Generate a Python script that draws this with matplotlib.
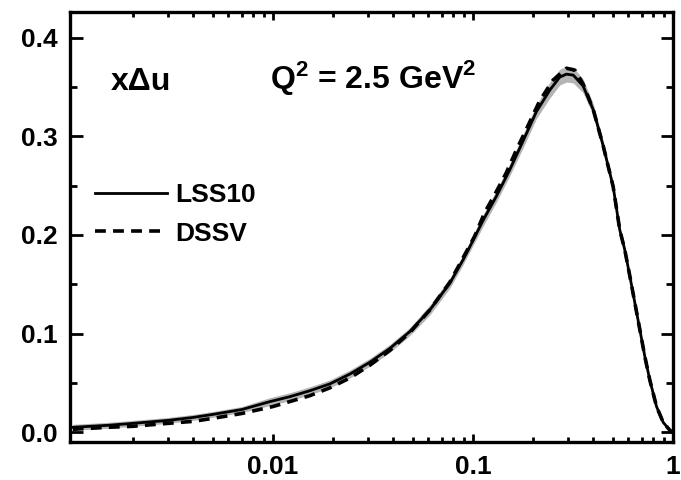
import numpy as np
import matplotlib
matplotlib.use('Agg')
import matplotlib.pyplot as plt
from matplotlib.ticker import LogLocator, MultipleLocator, NullFormatter, FixedLocator, FixedFormatter

plt.rcParams['font.family'] = ['Liberation Sans', 'DejaVu Sans']
plt.rcParams['font.weight'] = 'bold'
plt.rcParams['mathtext.fontset'] = 'custom'
plt.rcParams['mathtext.rm'] = 'Liberation Sans:bold'
plt.rcParams['mathtext.bf'] = 'Liberation Sans:bold'

# LSS10 central curve and its error band
x_lss = [0.001, 0.0015, 0.002, 0.003, 0.004, 0.005, 0.007, 0.00966, 0.01216, 0.0153, 0.0193,
         0.0243, 0.0306, 0.0385, 0.0484, 0.061, 0.0767, 0.0895, 0.0966, 0.1127, 0.131,
         0.153, 0.179, 0.208, 0.243, 0.272, 0.294, 0.318, 0.356, 0.400, 0.449, 0.503,
         0.543, 0.575, 0.610, 0.646, 0.684, 0.724, 0.767, 0.829, 0.895, 0.966, 1.0]
y_lss = [0.005, 0.007, 0.009, 0.012, 0.015, 0.018, 0.023, 0.031, 0.036, 0.042, 0.049,
         0.059, 0.071, 0.085, 0.102, 0.124, 0.151, 0.175, 0.188, 0.215, 0.239,
         0.266, 0.296, 0.325, 0.347, 0.360, 0.363, 0.362, 0.351, 0.327, 0.290, 0.249,
         0.205, 0.185, 0.158, 0.131, 0.104, 0.077, 0.053, 0.026, 0.010, 0.002, 0.0]
band_w = [0.003, 0.003, 0.003, 0.003, 0.003, 0.003, 0.003, 0.004, 0.004, 0.004, 0.004,
          0.004, 0.004, 0.004, 0.004, 0.005, 0.005, 0.005, 0.005, 0.006, 0.006,
          0.006, 0.007, 0.007, 0.008, 0.008, 0.008, 0.008, 0.007, 0.006, 0.005, 0.004,
          0.003, 0.003, 0.002, 0.002, 0.002, 0.002, 0.001, 0.001, 0.001, 0.0, 0.0]

# DSSV curve
x_dssv = [0.001, 0.0015, 0.002, 0.003, 0.004, 0.005, 0.007, 0.01, 0.0153, 0.0193, 0.0243,
          0.0306, 0.0385, 0.0484, 0.061, 0.0767, 0.0895, 0.1023, 0.1148, 0.1288, 0.147,
          0.165, 0.185, 0.216, 0.252, 0.294, 0.324, 0.356, 0.400, 0.449, 0.503,
          0.543, 0.575, 0.610, 0.646, 0.684, 0.724, 0.767, 0.829, 0.895, 0.966, 1.0]
y_dssv = [0.003, 0.005, 0.006, 0.009, 0.011, 0.014, 0.019, 0.026, 0.037, 0.045, 0.055,
          0.068, 0.083, 0.101, 0.124, 0.152, 0.177, 0.199, 0.223, 0.241, 0.263,
          0.286, 0.307, 0.336, 0.357, 0.369, 0.367, 0.353, 0.327, 0.290, 0.249,
          0.205, 0.185, 0.158, 0.131, 0.104, 0.077, 0.053, 0.026, 0.010, 0.002, 0.0]

band_lo = np.array(y_lss) - np.array(band_w)
band_hi = np.array(y_lss) + np.array(band_w)

fig = plt.figure(figsize=(6.81, 4.80), dpi=100)
ax = fig.add_axes([0.103, 0.079, 0.885, 0.896])

ax.fill_between(x_lss, band_lo, band_hi, color='#b4b4b4', lw=0)
ax.plot(x_lss, y_lss, color='black', lw=2.0, label='LSS10')
ax.plot(x_dssv, y_dssv, color='black', lw=2.6, ls=(0, (3, 2)), label='DSSV')

ax.set_xscale('log')
ax.set_xlim(0.00097, 1.0)
ax.set_ylim(-0.01, 0.426)

ax.xaxis.set_major_locator(FixedLocator([0.01, 0.1, 1]))
ax.xaxis.set_major_formatter(FixedFormatter(['0.01', '0.1', '1']))
ax.xaxis.set_minor_locator(LogLocator(base=10, subs=np.arange(2, 10)))
ax.xaxis.set_minor_formatter(NullFormatter())
ax.yaxis.set_major_locator(MultipleLocator(0.1))
ax.yaxis.set_minor_locator(MultipleLocator(0.05))
ax.yaxis.set_major_formatter(matplotlib.ticker.FormatStrFormatter('%.1f'))

ax.tick_params(axis='both', which='both', direction='in', top=True, right=True, labelsize=19)
ax.tick_params(axis='y', which='major', length=9, width=2, pad=9)
ax.tick_params(axis='y', which='minor', length=5, width=2)
ax.tick_params(axis='x', which='major', length=6, width=2, pad=9)
ax.tick_params(axis='x', which='minor', length=3.5, width=2)
for s in ax.spines.values():
    s.set_linewidth(2.4)

ax.text(0.068, 0.819, 'x\u0394u', transform=ax.transAxes, fontsize=23, fontweight='bold',
        va='baseline')
ax.text(0.331, 0.823, r'$\mathrm{Q^2}$ = 2.5 GeV$^\mathrm{2}$', transform=ax.transAxes,
        fontsize=23, fontweight='bold', va='baseline')

ax.legend(loc='upper left', bbox_to_anchor=(0.01, 0.645), frameon=False, fontsize=19,
          handlelength=2.75, handletextpad=0.3, labelspacing=0.55, borderpad=0.2)

fig.savefig('out.png', dpi=100)
